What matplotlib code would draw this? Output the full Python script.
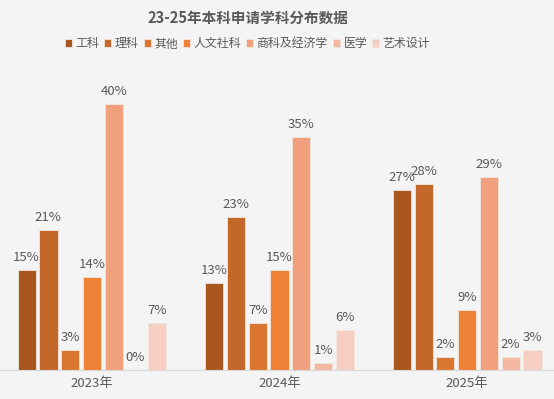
import matplotlib.pyplot as plt
import numpy as np

plt.rcParams['font.family'] = ['Noto Sans CJK SC', 'DejaVu Sans']

years = ['2023年', '2024年', '2025年']
subjects = ['工科', '理科', '其他', '人文社科', '商科及经济学', '医学', '艺术设计']
values = [
    [15, 13, 27],   # 工科
    [21, 23, 28],   # 理科
    [3, 7, 2],      # 其他
    [14, 15, 9],    # 人文社科
    [40, 35, 29],   # 商科及经济学
    [0, 1, 2],      # 医学
    [7, 6, 3],      # 艺术设计
]
colors = ['#a9571f', '#c4672a', '#da7530', '#ee8136', '#f0a07c', '#f4b8a0', '#f6cfc2']

bg = '#f4f4f4'
txt = '#595959'

fig = plt.figure(figsize=(5.54, 3.99), dpi=100, facecolor=bg)
ax = fig.add_axes([0.0, 0.073, 1.0, 0.75], facecolor=bg)

x = np.arange(len(years))
step = 0.116
w = 0.097
for i, (name, vals) in enumerate(zip(subjects, values)):
    pos = x + (i - 3) * step
    ax.bar(pos, vals, w, color=colors[i], label=name, edgecolor='#f0e6e0', linewidth=0.6)
    for p, v in zip(pos, vals):
        ax.text(p, v + 0.9, f'{v}%', ha='center', va='bottom', fontsize=9.5, color=txt)

ax.set_xlim(-0.49, 2.463)
ax.set_ylim(0, 45)
ax.set_xticks(x)
ax.set_xticklabels(years, fontsize=9.5, color=txt)
ax.tick_params(axis='x', length=0, pad=5)
ax.set_yticks([])
for s in ['top', 'right', 'left']:
    ax.spines[s].set_visible(False)
ax.spines['bottom'].set_color('#d9d9d9')

fig.text(0.447, 0.955, '23-25年本科申请学科分布数据', ha='center', va='center',
         fontsize=10.5, fontweight='bold', color=txt)
fig.legend(loc='center', bbox_to_anchor=(0.447, 0.89), ncol=7, frameon=False,
           fontsize=8.6, handlelength=0.6, handleheight=0.6, handletextpad=0.3,
           columnspacing=0.4, labelcolor=txt)

fig.savefig('out.png', dpi=100, facecolor=bg)
